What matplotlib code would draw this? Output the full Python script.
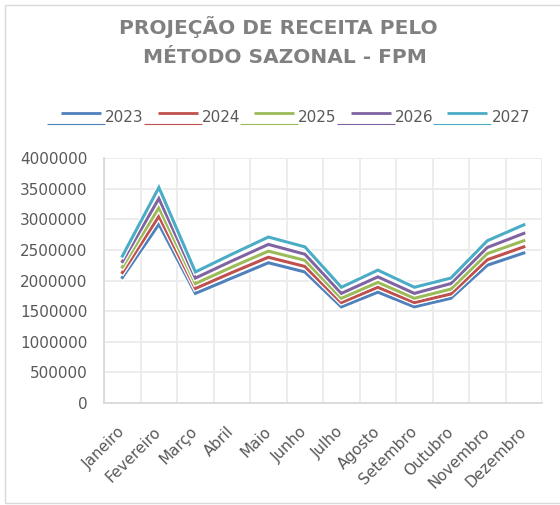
import matplotlib
matplotlib.use("Agg")
import matplotlib.pyplot as plt
import matplotlib.patheffects as pe
from matplotlib.lines import Line2D
from matplotlib.legend_handler import HandlerBase
from matplotlib.patches import Rectangle

# data
months = ["Janeiro", "Fevereiro", "Março", "Abril", "Maio", "Junho",
          "Julho", "Agosto", "Setembro", "Outubro", "Novembro", "Dezembro"]
years = ["2023", "2024", "2025", "2026", "2027"]
y2023 = [2050000, 2920000, 1790000, 2040000, 2290000, 2140000,
         1570000, 1810000, 1570000, 1710000, 2250000, 2450000]
y2024 = [2130000, 3050000, 1870000, 2130000, 2380000, 2230000,
         1640000, 1890000, 1640000, 1780000, 2340000, 2550000]
y2025 = [2220000, 3190000, 1950000, 2220000, 2480000, 2330000,
         1710000, 1970000, 1710000, 1860000, 2440000, 2650000]
y2026 = [2310000, 3340000, 2040000, 2320000, 2590000, 2430000,
         1790000, 2060000, 1790000, 1950000, 2540000, 2770000]
y2027 = [2400000, 3520000, 2140000, 2430000, 2710000, 2550000,
         1890000, 2170000, 1890000, 2040000, 2650000, 2910000]
series = [y2023, y2024, y2025, y2026, y2027]
colors = ["#4F81BD", "#C0504D", "#9BBB59", "#8064A2", "#4BACC6"]
yticks = [0, 500000, 1000000, 1500000, 2000000, 2500000, 3000000, 3500000, 4000000]

text_color = "#595959"
grid_color = "#EBEBEB"


class ExcelHandler(HandlerBase):
    # thick line on top, thin line underneath spanning the whole box
    def create_artists(self, legend, orig_handle, xdescent, ydescent,
                       width, height, fontsize, trans):
        c = orig_handle.get_color()
        yc = -ydescent + height / 2
        x0 = -xdescent
        thick = Line2D([x0 + 0.24 * width, x0 + 0.93 * width], [yc + 2.6, yc + 2.6],
                       color=c, lw=2.0, solid_capstyle="butt", transform=trans)
        thin = Line2D([x0, x0 + width], [yc - 5.2, yc - 5.2],
                      color=c, lw=0.8, solid_capstyle="butt", transform=trans)
        return [thin, thick]


fig = plt.figure(figsize=(5.6, 5.05), dpi=100)
ax = fig.add_axes([0.186, 0.202, 0.782, 0.485])

x = range(len(months))
lines = []
for name, vals, col in zip(years, series, colors):
    ln, = ax.plot(x, vals, color=col, lw=2.2, label=name, zorder=3,
                  solid_joinstyle="miter",
                  path_effects=[pe.Stroke(linewidth=4.0, foreground="white"), pe.Normal()])
    lines.append(ln)

ax.set_xlim(-0.5, len(months) - 0.5)
ax.set_ylim(0, 4000000)
ax.set_yticks(yticks)
ax.set_yticklabels([str(v) for v in yticks])
ax.set_xticks(list(x))
ax.set_xticklabels(months, rotation=45, ha="right", va="center", rotation_mode="anchor")
ax.set_xticks([i + 0.5 for i in range(-1, len(months))], minor=True)

ax.tick_params(axis="both", which="both", length=0, labelsize=11, labelcolor=text_color)
ax.tick_params(axis="x", which="major", pad=19)
ax.tick_params(axis="y", pad=12)
ax.grid(axis="y", color=grid_color, lw=1.3, zorder=0)
ax.grid(axis="x", which="minor", color=grid_color, lw=1.3, zorder=0)
for s in ["top", "right"]:
    ax.spines[s].set_visible(False)
for s in ["left", "bottom"]:
    ax.spines[s].set_color("#D9D9D9")
    ax.spines[s].set_linewidth(1.3)

fig.text(0.497, 0.946, "PROJEÇÃO DE RECEITA PELO", ha="center", va="center",
         fontsize=14.5, fontweight="bold", color="#808080")
fig.text(0.508, 0.887, "MÉTODO SAZONAL - FPM", ha="center", va="center",
         fontsize=14.5, fontweight="bold", color="#808080")

fig.legend(handles=lines, labels=years, handler_map={Line2D: ExcelHandler()},
           loc="center", bbox_to_anchor=(0.515, 0.768), ncol=5, frameon=False,
           fontsize=11, labelcolor=text_color, handlelength=3.8, handletextpad=0.0,
           columnspacing=0.0, borderpad=0.0)

# chart frame
fig.patches.append(Rectangle((5 / 560, 2 / 505), 1.0, 498 / 505, transform=fig.transFigure,
                             fill=False, edgecolor="#D9D9D9", lw=1.0))

fig.savefig("out.png", dpi=100)
